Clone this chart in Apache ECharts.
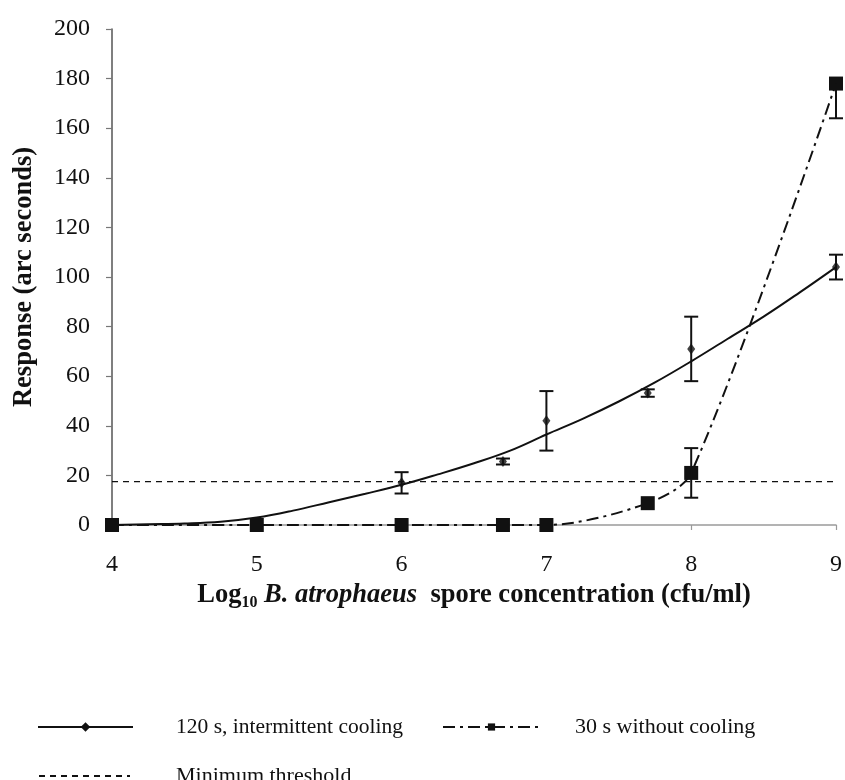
<!DOCTYPE html>
<html>
<head>
<meta charset="utf-8">
<script src="https://cdn.jsdelivr.net/npm/echarts@6/dist/echarts.min.js"></script>
<style>
  html, body { margin: 0; padding: 0; background: #fff; }
  #chart { width: 845px; height: 780px; }
</style>
</head>
<body>
<div id="chart"></div>
<script>
// Spore concentration (log10 cfu/ml) for each measurement
const concentration = [4, 5, 6, 6.7, 7, 7.7, 8, 9];

// 120 s, intermittent cooling: mean response and +/- error
const cooling120 = [0, 0, 17, 25.6, 42, 53.2, 71, 104];
const cooling120Err = [0, 0, 4.3, 1.2, 12, 1.5, 13, 5];

// 30 s without cooling: mean response, lower and upper error
const noCooling30 = [0, 0, 0, 0, 0, 8.8, 21, 178];
const noCooling30ErrDown = [0, 0, 0, 0, 0, 0, 10, 14];
const noCooling30ErrUp = [0, 0, 0, 0, 0, 0, 10, 0];

// Fitted trend curve for the 120 s series
const trendX = [4, 4.25, 4.5, 4.75, 5, 5.25, 5.5, 5.75, 6, 6.25, 6.5, 6.75, 7, 7.25, 7.5, 7.75, 8, 8.25, 8.5, 8.75, 9];
const trendY = [0, 0.3, 0.6, 1.3, 3, 5.8, 9.2, 12.6, 16.2, 20.4, 24.9, 30, 36.5, 42.8, 49.8, 57.5, 66, 75, 84, 93.8, 104];

// Minimum detection threshold
const thresholdValue = 17.5;

// Axis ranges
const xMin = 4, xMax = 9, xStep = 1;
const yMin = 0, yMax = 200, yStep = 20;

const NAME_120 = '120 s, intermittent cooling';
const NAME_30 = '30 s without cooling';
const NAME_MIN = 'Minimum threshold';
const INK = '#111';
const FONT = '"Liberation Serif", "Times New Roman", serif';

const pairs = (xs, ys) => xs.map((x, i) => [x, ys[i]]);

const errRows120 = concentration.map((x, i) => [x, cooling120[i], cooling120Err[i], cooling120Err[i]]);
const errRows30 = concentration.map((x, i) => [x, noCooling30[i], noCooling30ErrDown[i], noCooling30ErrUp[i]]);

function renderErrorBar(params, api) {
  const x = api.value(0), y = api.value(1), lo = api.value(2), hi = api.value(3);
  if (!lo && !hi) return null;
  const top = api.coord([x, y + hi]);
  const bot = api.coord([x, y - lo]);
  const half = 7;
  const style = { stroke: INK, lineWidth: 2 };
  const children = [{ type: 'line', shape: { x1: top[0], y1: top[1], x2: bot[0], y2: bot[1] }, style }];
  if (hi) children.push({ type: 'line', shape: { x1: top[0] - half, y1: top[1], x2: top[0] + half, y2: top[1] }, style });
  if (lo) children.push({ type: 'line', shape: { x1: bot[0] - half, y1: bot[1], x2: bot[0] + half, y2: bot[1] }, style });
  return { type: 'group', children };
}

const legendBase = {
  orient: 'horizontal',
  padding: 0,
  itemGap: 0,
  selectedMode: false,
  textStyle: { fontFamily: FONT, fontSize: 22, color: INK }
};

const chart = echarts.init(document.getElementById('chart'), null, { renderer: 'canvas' });

chart.setOption({
  backgroundColor: '#fff',
  animation: false,
  grid: { left: 112, right: 8, top: 29, bottom: 255, containLabel: false },
  legend: [
    Object.assign({}, legendBase, {
      left: 37, top: 716, itemWidth: 95, itemHeight: 12,
      data: [NAME_120],
      textStyle: Object.assign({}, legendBase.textStyle, { fontSize: 21.5, padding: [0, 0, 0, 38] })
    }),
    Object.assign({}, legendBase, {
      left: 442, top: 716, itemWidth: 97, itemHeight: 9,
      data: [NAME_30],
      textStyle: Object.assign({}, legendBase.textStyle, { padding: [0, 0, 0, 30] })
    }),
    Object.assign({}, legendBase, {
      left: 38, top: 765, itemWidth: 91, itemHeight: 10,
      data: [{ name: NAME_MIN, itemStyle: { opacity: 0 } }],
      textStyle: Object.assign({}, legendBase.textStyle, { padding: [0, 0, 0, 41] })
    })
  ],
  xAxis: {
    type: 'value',
    min: xMin, max: xMax, interval: xStep,
    name: '{a|Log}{s|10}{b| B. atrophaeus}{a|  spore concentration (cfu/ml)}',
    nameLocation: 'middle',
    nameGap: 54,
    nameTextStyle: {
      rich: {
        a: { fontFamily: FONT, fontSize: 26.5, fontWeight: 'bold', color: INK, lineHeight: 30 },
        b: { fontFamily: FONT, fontSize: 26.5, fontWeight: 'bold', fontStyle: 'italic', color: INK, lineHeight: 30 },
        s: { fontFamily: FONT, fontSize: 16, fontWeight: 'bold', color: INK, lineHeight: 15, verticalAlign: 'bottom' }
      }
    },
    axisLine: { show: true, onZero: false, lineStyle: { color: '#9a9a9a', width: 1.5 } },
    axisTick: { show: true, inside: false, length: 5, lineStyle: { color: '#9a9a9a', width: 1.2 } },
    axisLabel: { margin: 28, fontFamily: FONT, fontSize: 24, color: INK },
    splitLine: { show: false }
  },
  yAxis: {
    type: 'value',
    min: yMin, max: yMax, interval: yStep,
    name: 'Response (arc seconds)',
    nameLocation: 'middle',
    nameGap: 74,
    nameTextStyle: { fontFamily: FONT, fontSize: 26.5, fontWeight: 'bold', color: INK },
    axisLine: { show: true, lineStyle: { color: '#555', width: 1.5 } },
    axisTick: { show: true, inside: false, length: 6, lineStyle: { color: '#777', width: 1.2 } },
    axisLabel: { margin: 22, fontFamily: FONT, fontSize: 24, color: INK },
    splitLine: { show: false }
  },
  series: [
    {
      name: NAME_MIN,
      type: 'line',
      data: [[xMin, thresholdValue], [xMax, thresholdValue]],
      symbol: 'none',
      lineStyle: { color: INK, width: 1.3, type: [6, 5] },
      itemStyle: { color: INK },
      z: 1
    },
    {
      name: NAME_120,
      type: 'line',
      data: pairs(trendX, trendY),
      smooth: 0.4,
      symbol: 'diamond',
      showSymbol: false,
      lineStyle: { color: INK, width: 2 },
      itemStyle: { color: INK },
      z: 2
    },
    {
      name: 'error120',
      type: 'custom',
      data: errRows120,
      encode: { x: 0, y: 1 },
      renderItem: renderErrorBar,
      z: 3
    },
    {
      name: 'points120',
      type: 'scatter',
      data: pairs(concentration, cooling120),
      symbol: 'diamond',
      symbolSize: [8, 11],
      itemStyle: { color: INK },
      z: 4
    },
    {
      name: NAME_30,
      type: 'line',
      data: pairs(concentration, noCooling30),
      smooth: 0.3,
      symbol: 'rect',
      symbolSize: 14,
      showSymbol: true,
      lineStyle: { color: INK, width: 2, type: [12, 5, 3, 5] },
      itemStyle: { color: INK },
      z: 5
    },
    {
      name: 'error30',
      type: 'custom',
      data: errRows30,
      encode: { x: 0, y: 1 },
      renderItem: renderErrorBar,
      z: 6
    }
  ]
});
</script>
</body>
</html>
